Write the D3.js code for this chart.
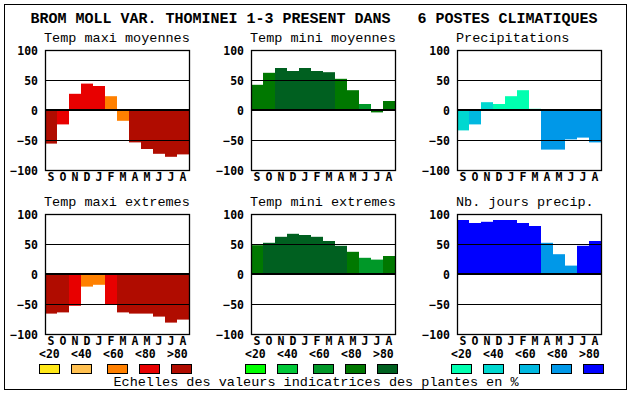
<!DOCTYPE html>
<html>
<head>
<meta charset="utf-8">
<script src="https://cdn.jsdelivr.net/npm/d3@7"></script>
<style>
  body { margin: 0; background: #fff; }
  text { font-family: "DejaVu Sans Mono", "Liberation Mono", monospace; }
  .thin { font-family: "Liberation Mono", "DejaVu Sans Mono", monospace; }
</style>
</head>
<body>
<script>
var months = ["S", "O", "N", "D", "J", "F", "M", "A", "M", "J", "J", "A"];
var yTicks = [100, 50, 0, -50, -100];
var classLabels = ["<20", "<40", "<60", "<80", ">80"];

var reds = ["#ffe818", "#ffc050", "#ff8000", "#e80000", "#b00c00"];
var greens = ["#00ff00", "#00c838", "#009828", "#007800", "#006020"];
var blues = ["#00ffb0", "#00d8d0", "#00b8e0", "#0098e8", "#0000ff"];

var maxiMoyValues = [-56, -24, 27, 44, 40, 23, -18, -54, -65, -73, -78, -74];
var maxiMoyClass  = [4, 3, 3, 3, 3, 2, 2, 4, 4, 4, 4, 4];
var miniMoyValues = [42, 62, 70, 65, 70, 65, 63, 52, 33, 10, -4, 15];
var miniMoyClass  = [3, 3, 4, 4, 4, 4, 4, 3, 3, 2, 3, 3];
var precipValues  = [-34, -24, 13, 10, 23, 33, 2, -66, -66, -49, -46, -54];
var precipClass   = [1, 2, 1, 0, 0, 0, 0, 3, 3, 3, 3, 3];
var maxiExtValues = [-66, -64, -53, -21, -18, -51, -64, -66, -66, -71, -81, -76];
var maxiExtClass  = [4, 4, 3, 2, 2, 3, 4, 4, 4, 4, 4, 4];
var miniExtValues = [48, 52, 62, 67, 65, 62, 55, 47, 37, 27, 24, 30];
var miniExtClass  = [3, 4, 4, 4, 4, 4, 4, 4, 3, 2, 2, 3];
var joursValues   = [90, 85, 87, 90, 90, 85, 80, 52, 33, 14, 47, 55];
var joursClass    = [4, 4, 4, 4, 4, 4, 4, 3, 3, 3, 4, 4];

var panels = [
  {title: "Temp maxi moyennes", values: maxiMoyValues, cls: maxiMoyClass, pal: reds, col: 0, row: 0},
  {title: "Temp mini moyennes", values: miniMoyValues, cls: miniMoyClass, pal: greens, col: 1, row: 0},
  {title: "Precipitations", values: precipValues, cls: precipClass, pal: blues, col: 2, row: 0},
  {title: "Temp maxi extremes", values: maxiExtValues, cls: maxiExtClass, pal: reds, col: 0, row: 1},
  {title: "Temp mini extremes", values: miniExtValues, cls: miniExtClass, pal: greens, col: 1, row: 1},
  {title: "Nb. jours precip.", values: joursValues, cls: joursClass, pal: blues, col: 2, row: 1}
];

var W = 630, H = 394;
var pw = 144, ph = 120;
var lefts = [45, 251, 457], tops = [50, 214];

var svg = d3.select("body").append("svg")
    .attr("width", W)
    .attr("height", H);

svg.append("rect")
    .attr("x", 4.5).attr("y", 4.5)
    .attr("width", 622).attr("height", 385)
    .attr("fill", "none").attr("stroke", "#000");

svg.append("text")
    .attr("class", "thin")
    .attr("x", 314).attr("y", 23)
    .attr("text-anchor", "middle")
    .style("font-size", "15px")
    .style("font-weight", "bold")
    .attr("xml:space", "preserve")
    .text("BROM MOLL VAR. THOMINEI 1-3 PRESENT DANS   6 POSTES CLIMATIQUES");

var x = d3.scaleBand().domain(d3.range(12)).range([0, pw]).padding(0);
var y = d3.scaleLinear().domain([-100, 100]).range([ph, 0]);

panels.forEach(function(p) {
  var g = svg.append("g")
      .attr("transform", "translate(" + lefts[p.col] + "," + tops[p.row] + ")");

  g.append("text")
      .attr("class", "thin")
      .attr("x", -1).attr("y", -8)
      .style("font-size", "13.5px")
      .text(p.title);

  g.selectAll("rect.bar")
      .data(p.values)
    .enter().append("rect")
      .attr("class", "bar")
      .attr("x", function(d, i) { return x(i); })
      .attr("width", x.bandwidth())
      .attr("y", function(d) { return y(Math.max(0, d)); })
      .attr("height", function(d) { return Math.abs(y(d) - y(0)); })
      .attr("fill", function(d, i) { return p.pal[p.cls[i]]; });

  g.selectAll("line.grid")
      .data([50, 0, -50])
    .enter().append("line")
      .attr("x1", 0).attr("x2", pw)
      .attr("y1", function(d) { return d === 0 ? y(d) : y(d) + 0.5; })
      .attr("y2", function(d) { return d === 0 ? y(d) : y(d) + 0.5; })
      .attr("stroke", "#000")
      .attr("stroke-width", function(d) { return d === 0 ? 2 : 1; });

  g.append("rect")
      .attr("x", 0.5).attr("y", 0.5)
      .attr("width", pw).attr("height", ph)
      .attr("fill", "none").attr("stroke", "#000").attr("stroke-width", 1.3);

  var axis = g.append("g")
      .call(d3.axisLeft(y).tickValues(yTicks).tickSize(0).tickPadding(7));
  axis.select(".domain").remove();
  axis.selectAll("text")
      .attr("dy", "0.36em")
      .style("font-size", "11.5px")
      .style("font-weight", "bold")
      .style("font-family", "\"DejaVu Sans Mono\", monospace")
      .attr("fill", "#000");

  g.selectAll("text.month")
      .data(months)
    .enter().append("text")
      .attr("class", "month")
      .attr("x", function(d, i) { return x(i) + x.bandwidth() / 2; })
      .attr("y", ph + 11)
      .attr("text-anchor", "middle")
      .style("font-size", "11.5px")
      .style("font-weight", "bold")
      .text(function(d) { return d; });
});

// legend
var labelOff = [0, 32, 64, 96, 128], swatchOff = [0, 32, 68, 100, 132];
[reds, greens, blues].forEach(function(pal, k) {
  var gx = lefts[k] - 6;
  var lg = svg.append("g").attr("transform", "translate(" + gx + ",0)");
  lg.selectAll("text")
      .data(classLabels)
    .enter().append("text")
      .attr("x", function(d, i) { return labelOff[i]; })
      .attr("y", 358)
      .style("font-size", "11.5px")
      .style("font-weight", "bold")
      .text(function(d) { return d; });
  lg.selectAll("rect")
      .data(pal)
    .enter().append("rect")
      .attr("x", function(d, i) { return swatchOff[i] + 0.5; })
      .attr("y", 364.5)
      .attr("width", 20).attr("height", 9)
      .attr("fill", function(d) { return d; })
      .attr("stroke", "#000");
});

svg.append("text")
    .attr("class", "thin")
    .attr("x", 316).attr("y", 386)
    .attr("text-anchor", "middle")
    .style("font-size", "13.5px")
    .text("Echelles des valeurs indicatrices des plantes en %");
</script>
</body>
</html>
